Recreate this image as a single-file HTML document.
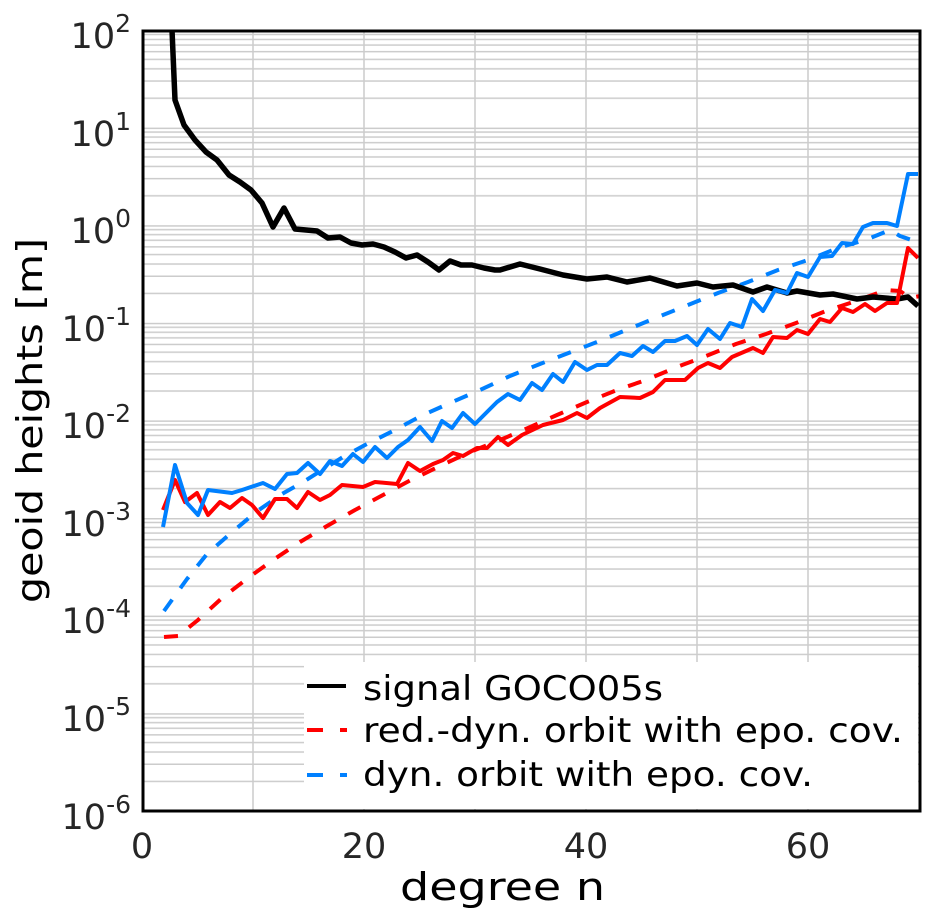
<!DOCTYPE html>
<html><head><meta charset="utf-8"><style>body{margin:0;background:#fff}svg{display:block;font-family:"DejaVu Sans","Liberation Sans",sans-serif}</style></head><body>
<svg width="929" height="923" xmlns="http://www.w3.org/2000/svg">
<defs>
<pattern id="hg" x="0" y="30" width="929" height="97.6" patternUnits="userSpaceOnUse">
<g stroke="#cccccc" stroke-width="1.5">
<line x1="0" x2="929" y1="0.75" y2="0.75"/><line x1="0" x2="929" y1="4.5" y2="4.5"/><line x1="0" x2="929" y1="9.5" y2="9.5"/><line x1="0" x2="929" y1="15.1" y2="15.1"/><line x1="0" x2="929" y1="21.7" y2="21.7"/><line x1="0" x2="929" y1="29.4" y2="29.4"/><line x1="0" x2="929" y1="38.8" y2="38.8"/><line x1="0" x2="929" y1="51" y2="51"/><line x1="0" x2="929" y1="68.2" y2="68.2"/>
</g></pattern>
</defs>
<rect x="142" y="30" width="778" height="781" fill="url(#hg)"/>
<g stroke="#cccccc" stroke-width="1.5">
<line x1="253" x2="253" y1="30" y2="811"/><line x1="364" x2="364" y1="30" y2="811"/><line x1="475" x2="475" y1="30" y2="811"/><line x1="586" x2="586" y1="30" y2="811"/><line x1="697" x2="697" y1="30" y2="811"/><line x1="808" x2="808" y1="30" y2="811"/>
</g>
<g fill="none" stroke-width="4" stroke-linejoin="round">
<polyline stroke="#ff0000" stroke-dasharray="14,14" points="164,637 178,636 198,620 222,598 248,578 273,560 300,542 327,526 355,510 383,495 411,480 440,466 470,452 500,440 528,428 557,415 587,402 617,390 646,380 677,367 706,356 736,344 766,334 796,323 826,311 856,301 886,290 900,291 910,298 920,296"/>
<polyline stroke="#0080ff" stroke-dasharray="14,14" points="164,611 187,579 207,554 231,533 256,512 282,494 303,482 343,457 365,445 393,431 421,416 450,403 480,390 510,376 540,364 597,342 658,317 688,305 718,293 748,282 778,270 808,260 838,248 868,239 890,230 900,236 920,243"/>
<polyline stroke="#000" stroke-width="5.5" points="172,30 175,100 184,125 195,140 206,152 217,160 229,175 240,182 251,190 262,203 273,227 284,208 295,229 306,230 317,231 328,238 340,237 351,243 362,245 373,244 384,247 395,252 406,258 417,255 428,262 439,270 450,261 461,265 472,265 484,268 495,270 500,270 520,264 540,269 563,275 587,279 607,277 627,282 650,278 677,286 697,283 713,287 733,285 753,292 767,287 787,293 797,291 820,295 833,294 857,299 873,297 897,299 908,297 918,306"/>
<polyline stroke="#ff0000" points="163,510 175,480 185,502 197,493 208,515 220,502 230,508 242,498 252,505 263,518 275,499 287,499 297,508 308,492 320,500 330,495 342,485 363,487 375,482 397,484 408,463 420,471 433,464 443,460 453,453 463,456 477,448 487,448 498,437 508,445 522,435 543,425 563,420 577,413 587,418 600,408 620,397 640,398 653,392 665,380 685,380 698,368 708,363 720,368 732,357 753,348 763,353 773,337 787,338 797,330 808,334 820,319 830,322 842,308 853,312 865,304 875,311 887,303 897,303 908,248 918,258"/>
<polyline stroke="#0080ff" points="163,527 175,465 187,503 198,515 208,490 232,493 242,490 263,483 275,489 287,474 297,473 308,463 320,474 330,461 342,466 353,454 363,462 375,447 387,458 398,447 408,440 420,427 432,441 442,421 452,428 463,413 475,424 497,402 508,394 520,400 532,383 542,390 553,374 563,382 575,362 587,370 597,365 607,365 620,353 632,356 643,346 653,352 665,341 675,341 687,336 697,345 708,329 720,339 730,323 742,327 752,299 763,311 775,290 787,293 797,273 808,277 820,257 832,256 842,243 853,244 863,227 873,223 887,223 897,226 908,174 918,174"/>
</g>
<rect x="304" y="662" width="614" height="147" fill="#fff"/>
<g stroke-width="4">
<line x1="307" x2="346" y1="686" y2="686" stroke="#000"/>
<line x1="307" x2="323" y1="730" y2="730" stroke="#ff0000"/><line x1="340" x2="347" y1="730" y2="730" stroke="#ff0000"/>
<line x1="307" x2="323" y1="775" y2="775" stroke="#0080ff"/><line x1="340" x2="347" y1="775" y2="775" stroke="#0080ff"/>
</g>
<g font-size="34" fill="#000">
<text x="363" y="700" textLength="300" lengthAdjust="spacingAndGlyphs">signal GOCO05s</text>
<text x="363" y="742" textLength="540" lengthAdjust="spacingAndGlyphs">red.-dyn. orbit with epo. cov.</text>
<text x="363" y="786" textLength="450" lengthAdjust="spacingAndGlyphs">dyn. orbit with epo. cov.</text>
</g>
<rect x="143" y="31" width="777" height="780" fill="none" stroke="#000" stroke-width="3"/>
<g font-size="35" fill="#262626" text-anchor="end">
<text x="131" y="48">10<tspan font-size="25" dy="-16">2</tspan></text>
<text x="131" y="146">10<tspan font-size="25" dy="-16">1</tspan></text>
<text x="131" y="243">10<tspan font-size="25" dy="-16">0</tspan></text>
<text x="131" y="341">10<tspan font-size="25" dy="-16">-1</tspan></text>
<text x="131" y="438">10<tspan font-size="25" dy="-16">-2</tspan></text>
<text x="131" y="536">10<tspan font-size="25" dy="-16">-3</tspan></text>
<text x="131" y="633">10<tspan font-size="25" dy="-16">-4</tspan></text>
<text x="131" y="731">10<tspan font-size="25" dy="-16">-5</tspan></text>
<text x="131" y="829">10<tspan font-size="25" dy="-16">-6</tspan></text>
</g>
<g font-size="35" fill="#262626" text-anchor="middle">
<text x="142" y="858">0</text><text x="364" y="858">20</text><text x="586" y="858">40</text><text x="808" y="858">60</text>
</g>
<text x="400" y="900" font-size="38" fill="#000" textLength="205" lengthAdjust="spacingAndGlyphs">degree n</text>
<text transform="translate(42,603) rotate(-90)" font-size="36" fill="#000" textLength="365" lengthAdjust="spacingAndGlyphs">geoid heights [m]</text>
</svg>
</body></html>
